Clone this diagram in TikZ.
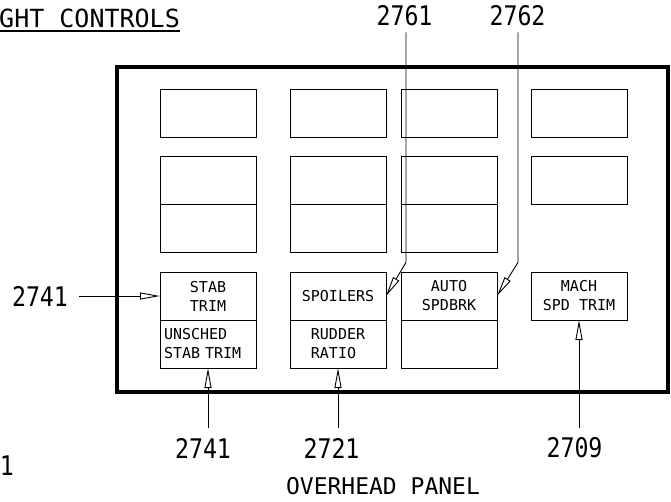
\documentclass[tikz,border=0pt]{standalone}
\usepackage{fontspec}
\setmainfont{DejaVu Sans Mono}
\newfontfamily\numfont[FakeStretch=0.86]{DejaVu Sans Mono}
\usetikzlibrary{positioning, arrows.meta}

\begin{document}
\begin{tikzpicture}[x=1pt, y=-1pt,
    cell/.style={draw, line width=0.9pt, minimum width=96pt, minimum height=48pt, inner sep=0pt, outer sep=0pt, align=center, font=\fontsize{15}{19}\selectfont},
    callout/.style={inner sep=0pt, font=\numfont\fontsize{27}{30}\selectfont},
    arr/.style={line width=0.9pt, -{Triangle[open, length=20pt, width=7pt]}},
    panel/.style={draw, line width=3.2pt, minimum width=551pt, minimum height=325pt, inner sep=0pt, outer sep=0pt}
]
\useasboundingbox (0,0) rectangle (671,501);

% Title and panel frame
\node[anchor=base west, inner sep=0pt, font=\fontsize{25}{30}\selectfont] (title) at (-1,27) {GHT CONTROLS};
\draw[line width=1.5pt] ([yshift=-4pt]title.base west) -- ([yshift=-4pt]title.base east);
\node[panel] (frame) at (392.5,229.5) {};

% Top row
\node[cell] (t1) at (208,113) {};
\node[cell, right=34pt of t1] (t2) {};
\node[cell, right=15pt of t2] (t3) {};
\node[cell, right=34pt of t3] (t4) {};

% Middle rows
\node[cell, below=19pt of t1] (m1) {};
\node[cell, below=0pt of m1] (l1) {};
\node[cell, below=19pt of t2] (m2) {};
\node[cell, below=0pt of m2] (l2) {};
\node[cell, below=19pt of t3] (m3) {};
\node[cell, below=0pt of m3] (l3) {};
\node[cell, below=19pt of t4] (m4) {};

% Bottom row
\node[cell, below=20pt of l1] (stab) {STAB\\TRIM};
\node[cell, below=0pt of stab, text width=88pt, align=left] (unsched) {UNSCHED\\STAB TRIM};
\node[cell, below=20pt of l2] (spoilers) {SPOILERS};
\node[cell, below=0pt of spoilers, align=left] (rudder) {RUDDER\\RATIO};
\node[cell, below=20pt of l3] (autosb) {AUTO\\SPDBRK};
\node[cell, below=0pt of autosb] (b3) {};
\node[cell, below=20pt of m4, yshift=-48pt] (mach) {MACH\\SPD TRIM};

% Callouts
\node[callout] (c2741a) at (40,296) {2741};
\node[callout] (c2761) at (404.5,16) {2761};
\node[callout] (c2762) at (517.5,16) {2762};
\node[callout] (c2741b) at (203,448) {2741};
\node[callout] (c2721) at (331.5,448) {2721};
\node[callout] (c2709) at (574.5,448) {2709};
\node[callout, anchor=east] (cedge) at (14,466) {1};
\node[inner sep=0pt, font=\fontsize{23}{28}\selectfont] (caption) at (383,486.5) {OVERHEAD PANEL};

% Leaders
\draw[arr, shorten <=11pt] (c2741a.east) -- (stab.west);
\draw[arr] ([xshift=1.5pt]c2761.south) ++(0,6) -- ++(0,230) -- (spoilers.east);
\draw[arr] ([xshift=0.5pt]c2762.south) ++(0,6) -- ++(0,230) -- (autosb.east);
\draw[arr, shorten <=10pt] (unsched.south |- c2741b.north) -- (unsched.south);
\draw[arr, shorten <=10pt] (rudder.south |- c2721.north) -- (rudder.south);
\draw[arr, shorten <=10pt] (mach.south |- c2709.north) -- (mach.south);

\end{tikzpicture}
\end{document}
